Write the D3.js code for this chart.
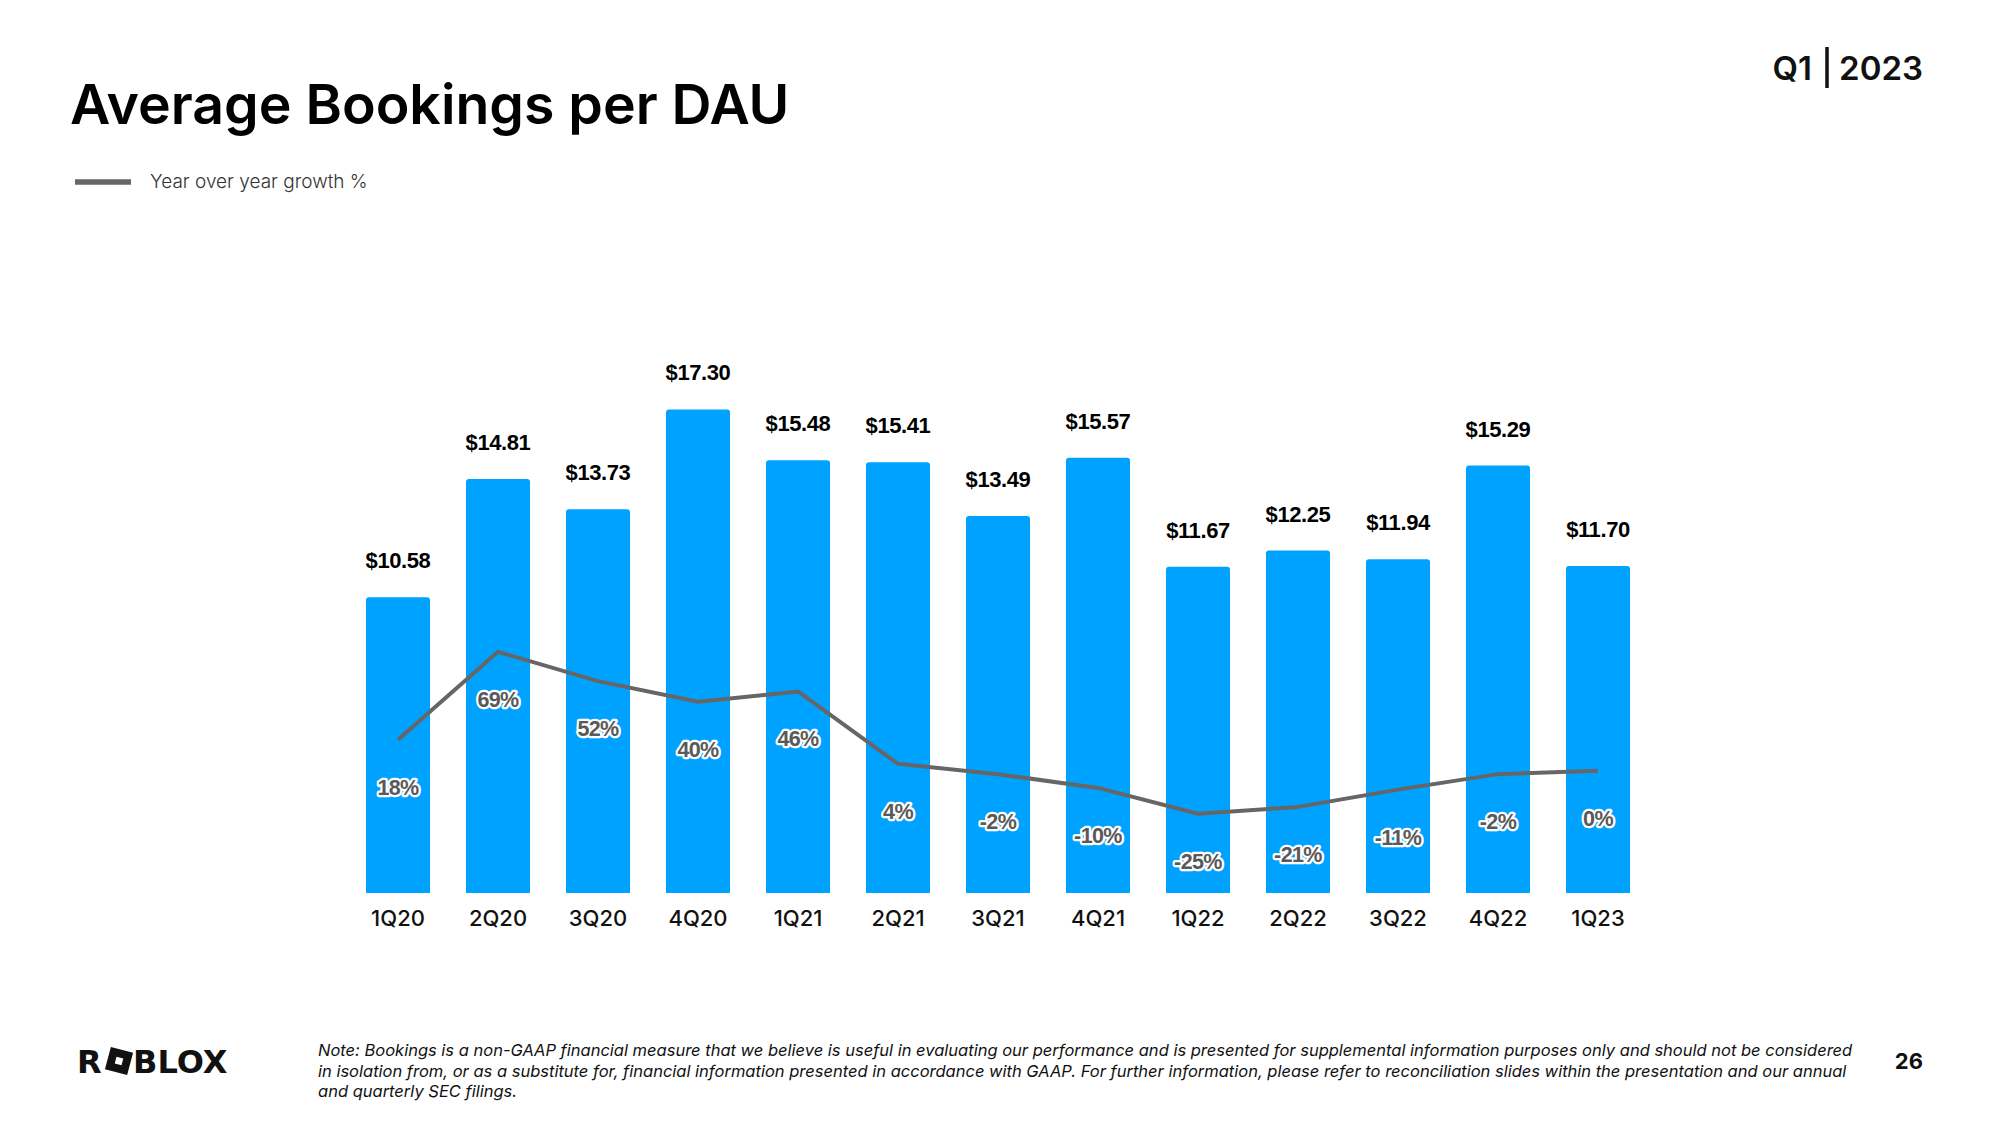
<!DOCTYPE html>
<html>
<head>
<meta charset="utf-8">
<script src="https://cdn.jsdelivr.net/npm/d3@7"></script>
<style>
  html, body { margin: 0; padding: 0; background: #fff; }
  svg { display: block; }
</style>
</head>
<body>
<svg id="chart" width="2000" height="1125"></svg>
<script>
const categories = ["1Q20","2Q20","3Q20","4Q20","1Q21","2Q21","3Q21","4Q21","1Q22","2Q22","3Q22","4Q22","1Q23"];
const bookingsPerDAU = [10.58, 14.81, 13.73, 17.30, 15.48, 15.41, 13.49, 15.57, 11.67, 12.25, 11.94, 15.29, 11.70];
const yoyGrowth = [18, 69, 52, 40, 46, 4, -2, -10, -25, -21, -11, -2, 0];
const footnoteLines = [
  "Note: Bookings is a non-GAAP financial measure that we believe is useful in evaluating our performance and is presented for supplemental information purposes only and should not be considered",
  "in isolation from, or as a substitute for, financial information presented in accordance with GAAP. For further information, please refer to reconciliation slides within the presentation and our annual",
  "and quarterly SEC filings."
];

const svg = d3.select("#chart");
const BLUE = "#00A2FF";
const GREY = "#666666";

// Title
svg.append("text").attr("x", 70).attr("y", 124)
  .attr("font-family", "Inter").attr("font-weight", 600).attr("font-size", 55.4)
  .attr("fill", "#000").text("Average Bookings per DAU");

// Q1 | 2023
svg.append("text").attr("x", 1812).attr("y", 80).attr("text-anchor", "end")
  .attr("font-family", "Inter").attr("font-weight", 600).attr("font-size", 33)
  .attr("fill", "#111").text("Q1");
svg.append("line").attr("x1", 1827).attr("x2", 1827).attr("y1", 47).attr("y2", 88)
  .attr("stroke", "#111").attr("stroke-width", 3.5);
svg.append("text").attr("x", 1923).attr("y", 80).attr("text-anchor", "end")
  .attr("font-family", "Inter").attr("font-weight", 600).attr("font-size", 33)
  .attr("fill", "#111").text("2023");

// Legend
svg.append("line").attr("x1", 75).attr("x2", 131).attr("y1", 182).attr("y2", 182)
  .attr("stroke", GREY).attr("stroke-width", 5.5);
svg.append("text").attr("x", 150).attr("y", 188)
  .attr("font-family", "Inter").attr("font-weight", 300).attr("font-size", 19)
  .attr("fill", "#333").text("Year over year growth %");

// Scales
const x = d3.scaleBand().domain(categories).range([348, 1648])
  .paddingInner(0.36).paddingOuter(0.18);
const y = d3.scaleLinear().domain([0, 17.30]).range([893, 409.4]);
const y2 = d3.scaleLinear().domain([-100, 100]).range([943, 598.4]);

// Bars
const bw = x.bandwidth();
svg.append("g").selectAll("path").data(categories).join("path")
  .attr("fill", BLUE)
  .attr("d", (c, i) => {
    const x0 = x(c), x1 = x0 + bw, yt = y(bookingsPerDAU[i]), yb = y(0), r = 3;
    return `M${x0},${yb}V${yt + r}Q${x0},${yt} ${x0 + r},${yt}H${x1 - r}Q${x1},${yt} ${x1},${yt + r}V${yb}Z`;
  });

// Value labels
svg.append("g").selectAll("text").data(categories).join("text")
  .attr("x", c => x(c) + bw / 2)
  .attr("y", (c, i) => y(bookingsPerDAU[i]) - 29)
  .attr("text-anchor", "middle")
  .attr("font-family", "Liberation Sans").attr("font-weight", 700).attr("font-size", 22)
  .attr("fill", "#000")
  .attr("letter-spacing", -0.4)
  .text((c, i) => "$" + bookingsPerDAU[i].toFixed(2));

// Category axis labels
const xAxis = d3.axisBottom(x).tickSize(0).tickPadding(0);
const ax = svg.append("g").attr("transform", "translate(0,910)").call(xAxis);
ax.select(".domain").remove();
ax.selectAll("text")
  .attr("font-family", "Inter").attr("font-weight", 500).attr("font-size", 22)
  .attr("fill", "#111").attr("dy", "0.71em");

// Growth line
const line = d3.line()
  .x((d, i) => x(categories[i]) + bw / 2)
  .y(d => y2(d));
svg.append("path").datum(yoyGrowth)
  .attr("d", line).attr("fill", "none")
  .attr("stroke", GREY).attr("stroke-width", 4).attr("stroke-linejoin", "round");

// Growth labels (with white halo)
svg.append("g").selectAll("text").data(yoyGrowth).join("text")
  .attr("x", (d, i) => x(categories[i]) + bw / 2)
  .attr("y", d => y2(d) + 55)
  .attr("text-anchor", "middle")
  .attr("font-family", "Liberation Sans").attr("font-weight", 700).attr("font-size", 21.5)
  .attr("fill", "#595959")
  .attr("stroke", "#fff").attr("stroke-width", 4.5).attr("stroke-linejoin", "round")
  .attr("paint-order", "stroke")
  .attr("letter-spacing", -0.6)
  .text(d => d + "%");

// Logo
const logo = svg.append("g").attr("transform", "translate(77,1073)");
logo.append("text").attr("x", 0).attr("y", 0)
  .attr("font-family", "DejaVu Sans").attr("font-weight", 700).attr("font-size", 32)
  .attr("fill", "#111").text("R");
const sq = logo.append("g").attr("transform", "translate(42,-12) rotate(15)");
sq.append("rect").attr("x", -11.5).attr("y", -11.5).attr("width", 23).attr("height", 23).attr("fill", "#111");
sq.append("rect").attr("x", -3.5).attr("y", -3.5).attr("width", 7).attr("height", 7).attr("fill", "#fff");
logo.append("text").attr("x", 56).attr("y", 0)
  .attr("font-family", "DejaVu Sans").attr("font-weight", 700).attr("font-size", 32)
  .attr("fill", "#111").text("BLOX");

// Footnote
svg.append("g").selectAll("text").data(footnoteLines).join("text")
  .attr("x", 318).attr("y", (d, i) => 1056 + i * 20.5)
  .attr("font-family", "Inter").attr("font-style", "italic").attr("font-size", 16.5)
  .attr("fill", "#111").text(d => d);

// Page number
svg.append("text").attr("x", 1923).attr("y", 1069).attr("text-anchor", "end")
  .attr("font-family", "Inter").attr("font-weight", 700).attr("font-size", 22)
  .attr("fill", "#111").text("26");
</script>
</body>
</html>
